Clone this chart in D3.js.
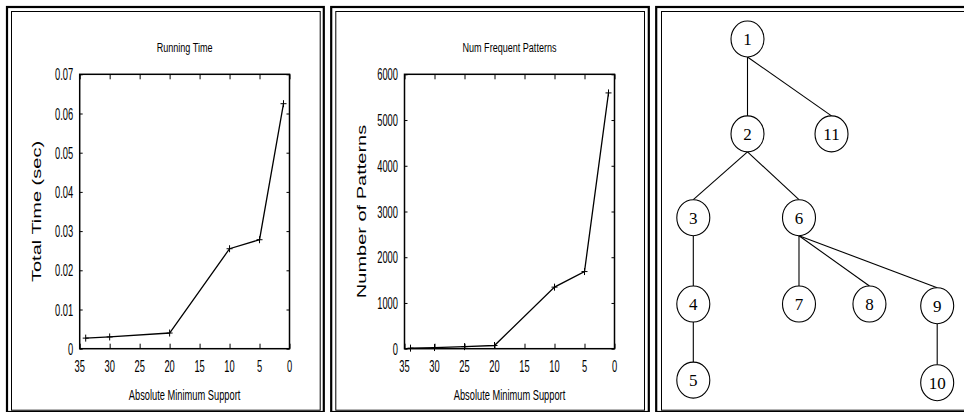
<!DOCTYPE html>
<html><head><meta charset="utf-8">
<script src="https://cdn.jsdelivr.net/npm/d3@7"></script>
<style>html,body{margin:0;padding:0;background:#fff;} svg{display:block;}</style>
</head><body><svg id="c" width="964" height="412"></svg>
<script>
// ---------- data ----------
const xTickValues = [35, 30, 25, 20, 15, 10, 5, 0];
const xTickLabels = ["35", "30", "25", "20", "15", "10", "5", "0"];

const timeSupport = [34, 30, 20, 10, 5, 1];
const timeValues = [0.0027, 0.0030, 0.0040, 0.0255, 0.0278, 0.0625];
const timeTicks = [0, 0.01, 0.02, 0.03, 0.04, 0.05, 0.06, 0.07];
const timeTickLabels = ["0", "0.01", "0.02", "0.03", "0.04", "0.05", "0.06", "0.07"];

const patternSupport = [34, 30, 25, 20, 10, 5, 1];
const patternValues = [12, 25, 45, 70, 1346, 1687, 5593];
const patternTicks = [0, 1000, 2000, 3000, 4000, 5000, 6000];
const patternTickLabels = ["0", "1000", "2000", "3000", "4000", "5000", "6000"];

const treeNodes   = ["1", "2", "3", "4", "5", "6", "7", "8", "9", "10", "11"];
const treeParents = [null, "1", "2", "3", "4", "2", "6", "6", "6", "9", "1"];
const treeColumn  = [2, 2, 0, 0, 0, 3.9, 3.9, 6.5, 9, 9, 5.1];
const treeLevel   = [0, 1.11, 2.09, 3.1, 3.99, 2.09, 3.1, 3.1, 3.12, 4.02, 1.11];

// ---------- drawing ----------
const svg = d3.select("#c");
const SANS = "'Liberation Sans', Arial, Helvetica, sans-serif";

// panel frames (double border)
function frame(x0, x1, y0, y1, w) {
  svg.append("rect").attr("x", x0).attr("y", y0)
    .attr("width", x1 - x0).attr("height", y1 - y0)
    .attr("fill", "none").attr("stroke", "#000").attr("stroke-width", w);
}
frame(7, 323.8, 7, 412, 2.2);     frame(11.5, 320.2, 11.5, 410.2, 1);
frame(331.2, 648.8, 7, 412, 2.2); frame(335.8, 644.5, 11.5, 410.2, 1);
frame(656.2, 990, 7, 412, 2.2);   frame(661.5, 985, 11.5, 410.2, 1);

function stext(g, x, y, str, size, sx, anchor) {
  return g.append("text")
    .attr("transform", `translate(${x},${y}) scale(${sx},1)`)
    .attr("text-anchor", anchor || "middle")
    .attr("font-family", SANS).attr("font-size", size)
    .attr("fill", "#000").text(str);
}

function lineChart(cfg) {
  const g = svg.append("g");
  const x = d3.scaleLinear().domain([35, 0]).range([cfg.x0, cfg.x1]);
  const y = d3.scaleLinear().domain(cfg.yDomain).range([cfg.y1, cfg.y0]);

  // inward ticks on all four sides (mirror)
  const ax = [
    [d3.axisBottom(x).tickValues(xTickValues).tickSize(-5), `translate(0,${cfg.y1})`],
    [d3.axisTop(x).tickValues(xTickValues).tickSize(-5), `translate(0,${cfg.y0})`],
    [d3.axisLeft(y).tickValues(cfg.yTicks).tickSize(-3), `translate(${cfg.x0},0)`],
    [d3.axisRight(y).tickValues(cfg.yTicks).tickSize(-3), `translate(${cfg.x1},0)`]
  ];
  ax.forEach(([a, t]) => {
    const ag = g.append("g").attr("transform", t).call(a.tickFormat(""));
    ag.select(".domain").remove();
    ag.selectAll("text").remove();
    ag.selectAll("line").attr("stroke", "#000").attr("stroke-width", 1);
  });

  // frame
  g.append("rect").attr("x", cfg.x0).attr("y", cfg.y0)
    .attr("width", cfg.x1 - cfg.x0).attr("height", cfg.y1 - cfg.y0)
    .attr("fill", "none").attr("stroke", "#000").attr("stroke-width", 1.5);

  // tick labels
  xTickValues.forEach((v, i) => stext(g, x(v), 371.8, xTickLabels[i], 17, 0.55, "middle"));
  cfg.yTicks.forEach((v, i) => stext(g, cfg.x0 - 6.5, y(v) + 6, cfg.yTickLabels[i], 17, 0.55, "end"));

  // titles
  stext(g, (cfg.x0 + cfg.x1) / 2, 51.7, cfg.title, 13.5, 0.67, "middle");
  stext(g, (cfg.x0 + cfg.x1) / 2, 399.5, "Absolute Minimum Support", 15, 0.62, "middle");
  g.append("text")
    .attr("transform", `translate(${cfg.x0 - 38.3},${(cfg.y0 + cfg.y1) / 2}) scale(0.68,1) rotate(-90)`)
    .attr("text-anchor", "middle").attr("font-family", SANS).attr("font-size", 20)
    .attr("fill", "#000").text(cfg.yLabel);

  // data line
  const pts = cfg.xs.map((v, i) => [x(v), y(cfg.ys[i])]);
  g.append("path").attr("d", d3.line()(pts))
    .attr("fill", "none").attr("stroke", "#000").attr("stroke-width", 1.3);
  g.selectAll(".pt").data(pts).enter().append("path")
    .attr("d", d => `M${d[0] - 3},${d[1]}H${d[0] + 3}M${d[0]},${d[1] - 3.5}V${d[1] + 3.5}`)
    .attr("stroke", "#000").attr("stroke-width", 1);
}

lineChart({
  x0: 79.7, x1: 289.5, y0: 74.3, y1: 348.7,
  yDomain: [0, 0.07], yTicks: timeTicks, yTickLabels: timeTickLabels,
  title: "Running Time", yLabel: "Total Time (sec)",
  xs: timeSupport, ys: timeValues
});
lineChart({
  x0: 404.5, x1: 614.5, y0: 74.3, y1: 348.7,
  yDomain: [0, 6000], yTicks: patternTicks, yTickLabels: patternTickLabels,
  title: "Num Frequent Patterns", yLabel: "Number of Patterns",
  xs: patternSupport, ys: patternValues
});

// ---------- tree ----------
const tx = d3.scaleLinear().domain([0, 9]).range([693.3, 937.2]);
const ty = d3.scaleLinear().domain([0, 4]).range([39, 381]);
const RX = 16.5, RY = 18;
const nodes = treeNodes.map((id, i) => ({ id, parent: treeParents[i], x: tx(treeColumn[i]), y: ty(treeLevel[i]) }));
const byId = new Map(nodes.map(n => [n.id, n]));
const tg = svg.append("g");
nodes.filter(n => n.parent).forEach(n => {
  const p = byId.get(n.parent);
  tg.append("line").attr("x1", p.x).attr("y1", p.y + RY).attr("x2", n.x).attr("y2", n.y - RY)
    .attr("stroke", "#000").attr("stroke-width", 1.1);
});
const ng = tg.selectAll(".node").data(nodes).enter().append("g");
ng.append("ellipse").attr("cx", d => d.x).attr("cy", d => d.y).attr("rx", RX).attr("ry", RY)
  .attr("fill", "#fff").attr("stroke", "#000").attr("stroke-width", 1.1);
ng.append("text").attr("x", d => d.x).attr("y", d => d.y + 6)
  .attr("text-anchor", "middle").attr("font-family", "'Liberation Serif', 'Times New Roman', serif")
  .attr("font-size", 17).attr("fill", "#000").text(d => d.id);
</script>
</body></html>
